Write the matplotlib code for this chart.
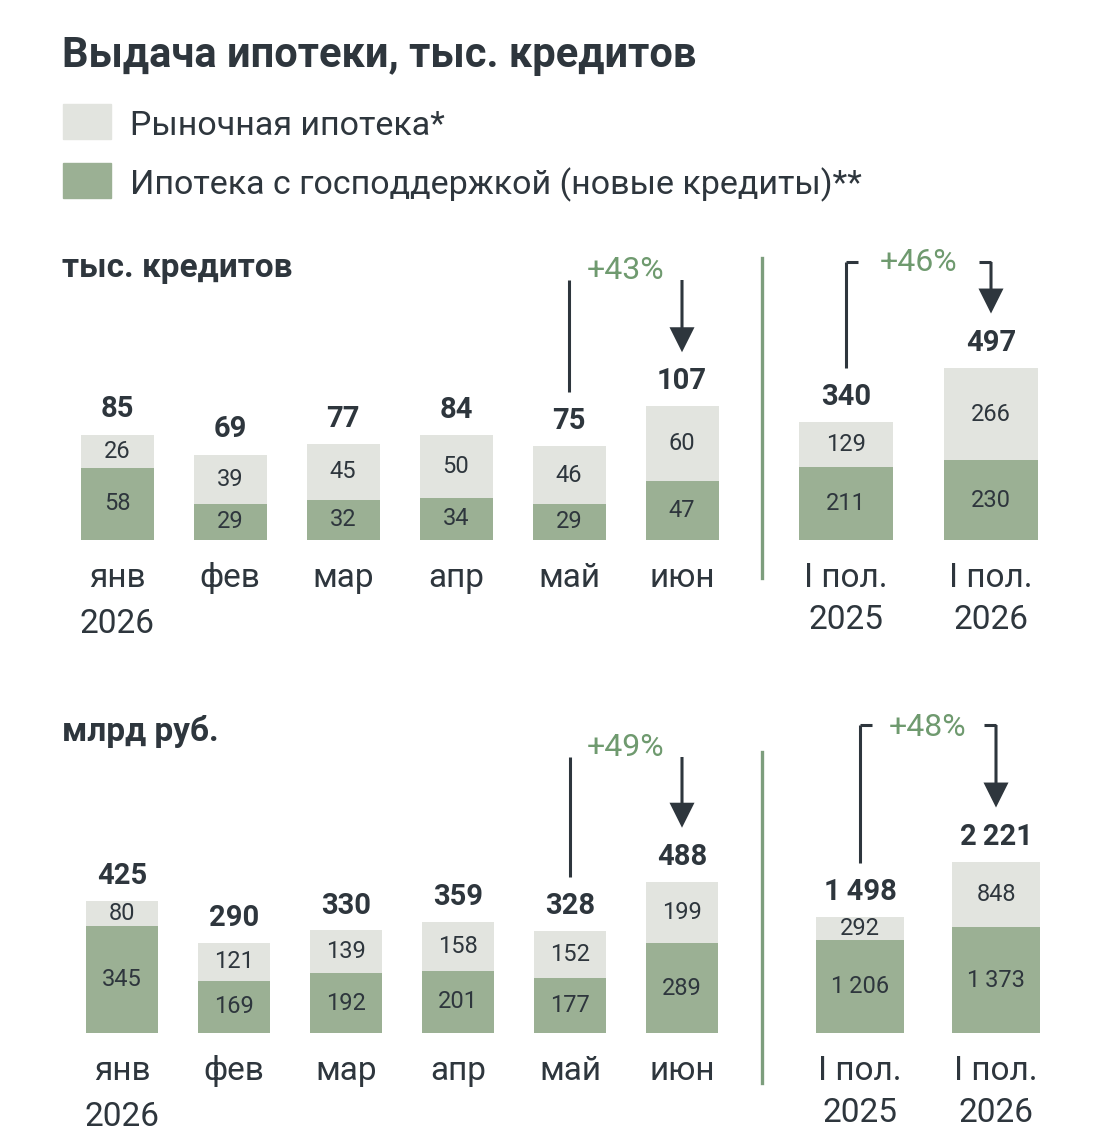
import matplotlib
matplotlib.use("Agg")
import matplotlib.pyplot as plt
from matplotlib.lines import Line2D
from matplotlib.patches import Rectangle
import numpy as np

plt.rcParams['font.family'] = ['Roboto', 'DejaVu Sans']

# data
months = ['янв\n2026', 'фев', 'мар', 'апр', 'май', 'июн']
halves = ['I пол.\n2025', 'I пол.\n2026']

# тыс. кредитов
cnt_market = [26, 39, 45, 50, 46, 60]
cnt_gov = [58, 29, 32, 34, 29, 47]
cnt_total = [85, 69, 77, 84, 75, 107]
cnt_h_market = [129, 266]
cnt_h_gov = [211, 230]
cnt_h_total = [340, 497]

# млрд руб.
rub_market = [80, 121, 139, 158, 152, 199]
rub_gov = [345, 169, 192, 201, 177, 289]
rub_total = [425, 290, 330, 359, 328, 488]
rub_h_market = [292, 848]
rub_h_gov = [1206, 1373]
rub_h_total = [1498, 2221]

growth = ['+43%', '+46%', '+49%', '+48%']

LIGHT = '#e2e4df'
GREEN = '#9bb094'
DARK = '#2e363d'
GTEXT = '#6f9a6f'
DIV = '#7d9e7d'

W, H = 1109, 1148
fig = plt.figure(figsize=(W / 100, H / 100), dpi=100)
fig.patch.set_facecolor('white')


def fmt(v):
    return f'{v:,}'.replace(',', '\u2009') if v >= 1000 else str(v)


def panel(c0, step, n, bw, base, ppu, top):
    left = c0 - step / 2
    right = c0 + step * (n - 0.5)
    ax = fig.add_axes([left / W, 1 - base / H, (right - left) / W, (base - top) / H])
    ax.set_xlim(-0.5, n - 0.5)
    ax.set_ylim(0, (base - top) / ppu)
    ax.patch.set_alpha(0)
    for s in ax.spines.values():
        s.set_visible(False)
    ax.set_yticks([])
    return ax, bw / step, 1 / ppu


def draw(ax, bw, labels, gov, market, total, lsp):
    x = np.arange(len(labels))
    ax.bar(x, gov, width=bw, color=GREEN)
    ax.bar(x, market, bottom=gov, width=bw, color=LIGHT)
    for i in x:
        ax.text(i, gov[i] / 2, fmt(gov[i]), ha='center', va='center',
                fontsize=17, color=DARK)
        ax.text(i, gov[i] + market[i] / 2, fmt(market[i]), ha='center',
                va='center', fontsize=17, color=DARK)
        ax.annotate(fmt(total[i]), (i, total[i]), xytext=(0, 18),
                    textcoords='offset points', ha='center', va='center',
                    fontsize=21, fontweight='bold', color=DARK)
    ax.set_xticks(x, labels)
    ax.tick_params(axis='x', length=0, pad=16, labelsize=24, labelcolor=DARK)
    for t in ax.get_xticklabels():
        t.set_linespacing(lsp)


def change(ax, upp, i0, i1, v0, v1, top_units, text, bracket, text_dy):
    gap = 54 * upp
    ax.plot([i0, i0], [v0 + gap, top_units], color=DARK, lw=2.2,
            clip_on=False, solid_capstyle='butt')
    ax.annotate('', xy=(i1, v1 + gap), xytext=(i1, top_units),
                arrowprops=dict(facecolor=DARK, edgecolor='none', width=2.2,
                                headwidth=18, headlength=18, shrink=0),
                annotation_clip=False)
    if bracket:
        tick = 0.085
        ax.plot([i0, i0 + tick], [top_units, top_units], color=DARK, lw=2.2,
                clip_on=False, solid_capstyle='butt')
        ax.plot([i1 - tick, i1], [top_units, top_units], color=DARK, lw=2.2,
                clip_on=False, solid_capstyle='butt')
    ax.text((i0 + i1) / 2, top_units + text_dy * upp, text, ha='center',
            va='center', fontsize=23, color=GTEXT, clip_on=False)


# top panel
ax1, bw1, u1 = panel(117, 113, 6, 73, 540, 1.25, 240)
draw(ax1, bw1, months, cnt_gov, cnt_market, cnt_total, 1.55)
change(ax1, u1, 4, 5, cnt_total[4], cnt_total[5], 260 * u1, growth[0], False, 10)

ax2, bw2, u2 = panel(846, 145, 2, 94, 540, 0.347, 240)
draw(ax2, bw2, halves, cnt_h_gov, cnt_h_market, cnt_h_total, 1.4)
change(ax2, u2, 0, 1, cnt_h_total[0], cnt_h_total[1], 278 * u2, growth[1], True, 0)

# bottom panel
ax3, bw3, u3 = panel(122, 112, 6, 72, 1033, 0.31, 700)
draw(ax3, bw3, months, rub_gov, rub_market, rub_total, 1.55)
change(ax3, u3, 4, 5, rub_total[4], rub_total[5], 276 * u3, growth[2], False, 9)

ax4, bw4, u4 = panel(860, 136, 2, 88, 1033, 0.0772, 700)
draw(ax4, bw4, halves, rub_h_gov, rub_h_market, rub_h_total, 1.4)
change(ax4, u4, 0, 1, rub_h_total[0], rub_h_total[1], 308 * u4, growth[3], True, -3)

# dividers
for y0, y1 in [(258, 578), (752, 1083)]:
    fig.add_artist(Line2D([762 / W, 762 / W], [1 - y0 / H, 1 - y1 / H],
                          color=DIV, lw=2.4))

# title, legend, subtitles
fig.text(62 / W, 1 - 56 / H, 'Выдача ипотеки, тыс. кредитов', fontsize=30,
         fontweight='bold', color=DARK, va='center')
for y, col, lbl in [(122, LIGHT, 'Рыночная ипотека*'),
                    (181, GREEN, 'Ипотека с господдержкой (новые кредиты)**')]:
    fig.add_artist(Rectangle((63 / W, 1 - (y + 17) / H), 48 / W, 35 / H,
                             transform=fig.transFigure, color=col))
    fig.text(130 / W, 1 - (y + 4) / H, lbl, fontsize=24.5, color=DARK, va='center')

fig.text(62 / W, 1 - 268 / H, 'тыс. кредитов', fontsize=24, fontweight='bold',
         color=DARK, va='center')
fig.text(62 / W, 1 - 732 / H, 'млрд руб.', fontsize=24, fontweight='bold',
         color=DARK, va='center')

fig.savefig('out.png', dpi=100, facecolor='white')
